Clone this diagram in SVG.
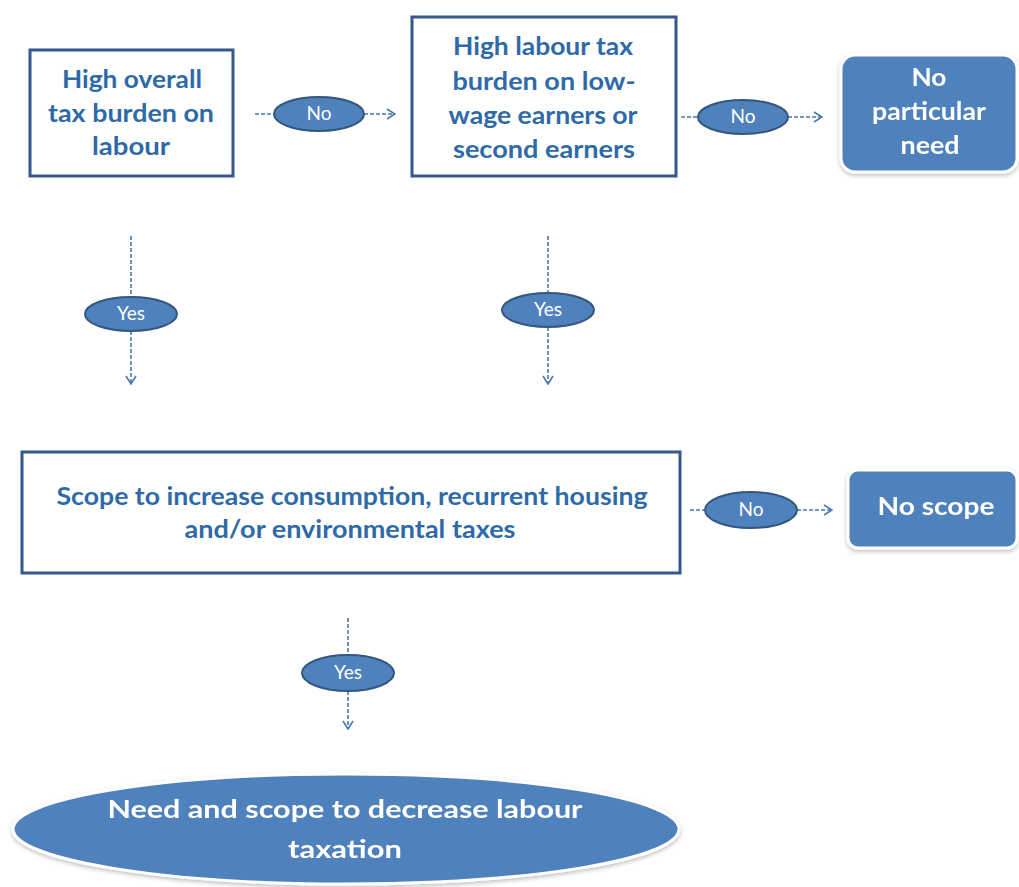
<svg xmlns="http://www.w3.org/2000/svg" width="1019" height="887" viewBox="0 0 1019 887">
  <style>
    .box { fill: #ffffff; stroke: #35598a; stroke-width: 3; }
    .solid { fill: #4f81bd; stroke: #ffffff; stroke-width: 3; }
    .pill { fill: #4f81bd; stroke: #34577f; stroke-width: 2; }
    .qtext { font-family: Lato, "Liberation Sans", sans-serif; font-weight: bold; font-size: 24px; fill: #2f6aa8; text-anchor: middle; }
    .wtext { font-family: Lato, "Liberation Sans", sans-serif; font-weight: bold; font-size: 24px; fill: #ffffff; text-anchor: middle; }
    .ltext { font-family: Lato, "Liberation Sans", sans-serif; font-size: 19px; fill: #ffffff; text-anchor: middle; }
    .link { fill: none; stroke: #4a78ae; stroke-width: 1.6; stroke-dasharray: 4 2; }
  </style>
  <defs>
    <marker id="open" viewBox="0 0 10 12" refX="9" refY="6" markerWidth="10" markerHeight="12" markerUnits="userSpaceOnUse" orient="auto">
      <path d="M1,1 L9,6 L1,11" fill="none" stroke="#4a78ae" stroke-width="1.6"/>
    </marker>
    <filter id="shadow" x="-10%" y="-10%" width="120%" height="130%">
      <feDropShadow dx="0" dy="2" stdDeviation="2" flood-color="#000000" flood-opacity="0.25"/>
    </filter>
  </defs>

  <rect width="1019" height="887" fill="#ffffff"/>

  <!-- connectors with their Yes/No labels -->
  <g id="connectors">
    <!-- overall burden -> low-wage burden -->
    <line class="link" x1="255" y1="114" x2="274" y2="114"/>
    <line class="link" x1="364" y1="114" x2="395" y2="114" marker-end="url(#open)"/>
    <ellipse class="pill" cx="319" cy="114" rx="45" ry="17"/>
    <text class="ltext" x="319" y="120">No</text>

    <!-- low-wage burden -> no particular need -->
    <line class="link" x1="681" y1="117" x2="698" y2="117"/>
    <line class="link" x1="788" y1="117" x2="822" y2="117" marker-end="url(#open)"/>
    <ellipse class="pill" cx="743" cy="117" rx="45" ry="17"/>
    <text class="ltext" x="743" y="123">No</text>

    <!-- overall burden -> scope -->
    <line class="link" x1="131" y1="236" x2="131" y2="297"/>
    <line class="link" x1="131" y1="331" x2="131" y2="384" marker-end="url(#open)"/>
    <ellipse class="pill" cx="131" cy="314" rx="46" ry="17"/>
    <text class="ltext" x="131" y="320">Yes</text>

    <!-- low-wage burden -> scope -->
    <line class="link" x1="548" y1="236" x2="548" y2="293"/>
    <line class="link" x1="548" y1="327" x2="548" y2="384" marker-end="url(#open)"/>
    <ellipse class="pill" cx="548" cy="310" rx="46" ry="17"/>
    <text class="ltext" x="548" y="316">Yes</text>

    <!-- scope -> no scope -->
    <line class="link" x1="690" y1="510" x2="705" y2="510"/>
    <line class="link" x1="797" y1="510" x2="832" y2="510" marker-end="url(#open)"/>
    <ellipse class="pill" cx="751" cy="510" rx="46" ry="18"/>
    <text class="ltext" x="751" y="516">No</text>

    <!-- scope -> decrease labour taxation -->
    <line class="link" x1="348" y1="618" x2="348" y2="655"/>
    <line class="link" x1="348" y1="691" x2="348" y2="729" marker-end="url(#open)"/>
    <ellipse class="pill" cx="348" cy="673" rx="46" ry="18"/>
    <text class="ltext" x="348" y="679">Yes</text>
  </g>

  <g id="overall-burden">
    <rect class="box" x="30" y="50" width="203" height="126"/>
    <text class="qtext" x="132" y="88" textLength="140" lengthAdjust="spacingAndGlyphs">High overall</text>
    <text class="qtext" x="131" y="122" textLength="166" lengthAdjust="spacingAndGlyphs">tax burden on</text>
    <text class="qtext" x="131" y="155" textLength="78" lengthAdjust="spacingAndGlyphs">labour</text>
  </g>

  <g id="lowwage-burden">
    <rect class="box" x="412" y="17" width="264" height="159"/>
    <text class="qtext" x="543" y="55" textLength="180" lengthAdjust="spacingAndGlyphs">High labour tax</text>
    <text class="qtext" x="544" y="90" textLength="183" lengthAdjust="spacingAndGlyphs">burden on low-</text>
    <text class="qtext" x="543" y="124" textLength="189" lengthAdjust="spacingAndGlyphs">wage earners or</text>
    <text class="qtext" x="544" y="158" textLength="182" lengthAdjust="spacingAndGlyphs">second earners</text>
  </g>

  <g id="no-particular-need" filter="url(#shadow)">
    <rect class="solid" x="841" y="55" width="176" height="117" rx="14"/>
    <text class="wtext" x="929" y="86" textLength="35" lengthAdjust="spacingAndGlyphs">No</text>
    <text class="wtext" x="929" y="120" textLength="114" lengthAdjust="spacingAndGlyphs">particular</text>
    <text class="wtext" x="930" y="154" textLength="59" lengthAdjust="spacingAndGlyphs">need</text>
  </g>

  <g id="scope">
    <rect class="box" x="22" y="452" width="658" height="121"/>
    <text class="qtext" x="352" y="505" textLength="591" lengthAdjust="spacingAndGlyphs">Scope to increase consumption, recurrent housing</text>
    <text class="qtext" x="350" y="538" textLength="331" lengthAdjust="spacingAndGlyphs">and/or environmental taxes</text>
  </g>

  <g id="no-scope" filter="url(#shadow)">
    <rect class="solid" x="848" y="470" width="169" height="78" rx="10"/>
    <text class="wtext" x="936" y="515" textLength="117" lengthAdjust="spacingAndGlyphs">No  scope</text>
  </g>

  <g id="decrease-taxation" filter="url(#shadow)">
    <ellipse class="solid" cx="346" cy="829" rx="333" ry="55"/>
    <text class="wtext" x="345" y="818" font-size="27" textLength="475" lengthAdjust="spacingAndGlyphs">Need and scope to decrease labour</text>
    <text class="wtext" x="345" y="858" font-size="27" textLength="114" lengthAdjust="spacingAndGlyphs">taxation</text>
  </g>
</svg>
